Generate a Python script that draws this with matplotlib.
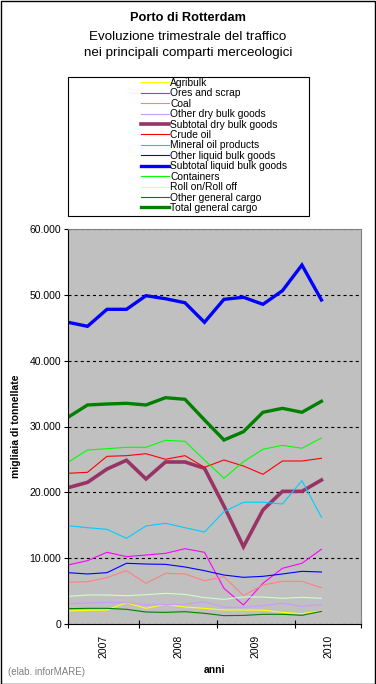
import matplotlib
matplotlib.use('Agg')
import matplotlib.pyplot as plt
from matplotlib.lines import Line2D
from matplotlib.patches import Rectangle
from matplotlib.ticker import FuncFormatter, FixedLocator

plt.rcParams['font.family'] = ['Liberation Sans', 'DejaVu Sans']
plt.rcParams['lines.scale_dashes'] = False

# dati trimestrali (migliaia di tonnellate), 2007 Q1 - 2010 Q2
years = ['2007', '2008', '2009', '2010']
agribulk = [1970, 2080, 2130, 3240, 2380, 2990, 2580, 2380, 2130, 2130, 2100, 1770, 1570, 1970]
ores_scrap = [8960, 9620, 10890, 10230, 10480, 10730, 11440, 10890, 5420, 2890, 6180, 8460, 9220, 11350]
coal = [6330, 6430, 7040, 8100, 6180, 7700, 7600, 6580, 7190, 4300, 5920, 6480, 6480, 5520]
other_dry = [3100, 3150, 3300, 3250, 2900, 2950, 2980, 3400, 2550, 2550, 2800, 3150, 2700, 2950]
subtot_dry = [20700, 21520, 23540, 24870, 22030, 24610, 24610, 23650, 17920, 11740, 17320, 20150, 20150, 21870]
crude_oil = [22890, 23040, 25470, 25570, 25870, 25020, 25570, 23800, 24910, 24000, 22740, 24760, 24760, 25170]
mineral_oil = [14930, 14630, 14380, 13010, 14890, 15300, 14630, 13970, 17060, 18490, 18490, 18230, 21770, 16210]
other_liquid = [7800, 7600, 7800, 9220, 9110, 9060, 8660, 8100, 7440, 7090, 7240, 7600, 8000, 7900]
subtot_liquid = [45830, 45220, 47800, 47800, 49870, 49410, 48800, 45830, 49320, 49630, 48560, 50630, 54530, 49220]
containers = [24560, 26430, 26630, 26840, 26840, 27900, 27750, 24910, 22130, 24650, 26540, 27140, 26690, 28250]
roro = [4200, 4400, 4400, 4300, 4450, 4660, 4500, 4000, 3750, 4100, 4100, 3900, 4050, 3900]
other_general = [2330, 2380, 2380, 2230, 1820, 1770, 1870, 1620, 1270, 1300, 1470, 1470, 1320, 1920]
total_general = [31400, 33270, 33420, 33520, 33270, 34380, 34130, 31000, 27950, 29210, 32160, 32760, 32160, 33830]

series = [
    ('Agribulk', agribulk, '#FFFF00', 0.8),
    ('Ores and scrap', ores_scrap, '#FF00FF', 0.8),
    ('Coal', coal, '#FF8080', 0.8),
    ('Other dry bulk goods', other_dry, '#CC99FF', 0.8),
    ('Subtotal dry bulk goods', subtot_dry, '#993366', 2.6),
    ('Crude oil', crude_oil, '#FF0000', 0.8),
    ('Mineral oil products', mineral_oil, '#00CCFF', 0.8),
    ('Other liquid bulk goods', other_liquid, '#0000FF', 0.8),
    ('Subtotal liquid bulk goods', subtot_liquid, '#0000FF', 2.4),
    ('Containers', containers, '#00FF00', 0.8),
    ('Roll on/Roll off', roro, '#CCFFCC', 0.8),
    ('Other general cargo', other_general, '#008000', 0.8),
    ('Total general cargo', total_general, '#008000', 2.4),
]

W, H = 376, 684
fig = plt.figure(figsize=(W / 100, H / 100), dpi=100)
fig.patches.append(Rectangle((0.5 / W, 0.5 / H), 1 - 1.5 / W, 1 - 1.5 / H, transform=fig.transFigure,
                             fill=False, edgecolor='black', lw=1))

# titolo
fig.text(188 / W, 1 - 18 / H, 'Porto di Rotterdam', ha='center', va='center', fontsize=9.2, fontweight='bold')
fig.text(188 / W, 1 - 37 / H, 'Evoluzione trimestrale del traffico', ha='center', va='center', fontsize=9.6)
fig.text(188 / W, 1 - 53 / H, 'nei principali comparti merceologici', ha='center', va='center', fontsize=9.6)

ax = fig.add_axes([68 / W, 60 / H, 293 / W, 395 / H])
ax.set_facecolor('#C0C0C0')

x = list(range(len(agribulk)))
handles = []
for name, vals, color, lw in series:
    ax.plot(x, vals, color=color, lw=lw, solid_joinstyle='miter')
    handles.append(Line2D([], [], color=color, lw=lw, label=name))

ax.set_xlim(0, 15.03)
ax.set_ylim(0, 60000)
ax.yaxis.set_major_locator(FixedLocator(range(0, 60001, 10000)))
ax.yaxis.set_major_formatter(FuncFormatter(lambda v, p: f'{v:,.0f}'.replace(',', '.')))
ax.tick_params(axis='y', direction='out', length=3, width=0.8, labelsize=7.5, pad=2)

# limiti degli anni e etichette al centro
bounds = [0, 3.64, 7.64, 11.64, 15.03]
ax.set_xticks(bounds)
ax.set_xticklabels([])
ax.tick_params(axis='x', which='major', direction='inout', length=6, width=0.8)
mids = [(bounds[i] + bounds[i + 1]) / 2 for i in range(4)]
ax.set_xticks(mids, minor=True)
ax.set_xticklabels(years, minor=True, rotation=90, fontsize=7.5)
ax.tick_params(axis='x', which='minor', length=0, pad=8)

ax.grid(axis='y', color='black', linestyle=(0, (2.2, 2.2)), lw=0.8)
ax.set_axisbelow(True)
for s in ['top', 'right']:
    ax.spines[s].set_color('#808080')
    ax.spines[s].set_linewidth(0.8)
for s in ['left', 'bottom']:
    ax.spines[s].set_color('black')
    ax.spines[s].set_linewidth(0.8)

fig.text(16 / W, 1 - 426 / H, 'migliaia di tonnellate', rotation=90, ha='center', va='center',
         fontsize=7.5, fontweight='bold')
fig.text(215 / W, 1 - 670 / H, 'anni', ha='center', va='center', fontsize=7.5, fontweight='bold')
fig.text(8 / W, 1 - 672 / H, '(elab. inforMARE)', ha='left', va='center', fontsize=7, color='#808080')

# riquadro legenda
fig.patches.append(Rectangle((68 / W, 1 - 216 / H), 241 / W, 139 / H, transform=fig.transFigure,
                             fill=False, edgecolor='black', lw=0.8))
fig.legend(handles=handles, loc='upper left', bbox_to_anchor=(141 / W, 1 - 78 / H), frameon=False,
           fontsize=7.4, handlelength=2.7, handletextpad=0.15, labelspacing=0.04, borderpad=0,
           borderaxespad=0)

plt.savefig('out.png', dpi=100)
